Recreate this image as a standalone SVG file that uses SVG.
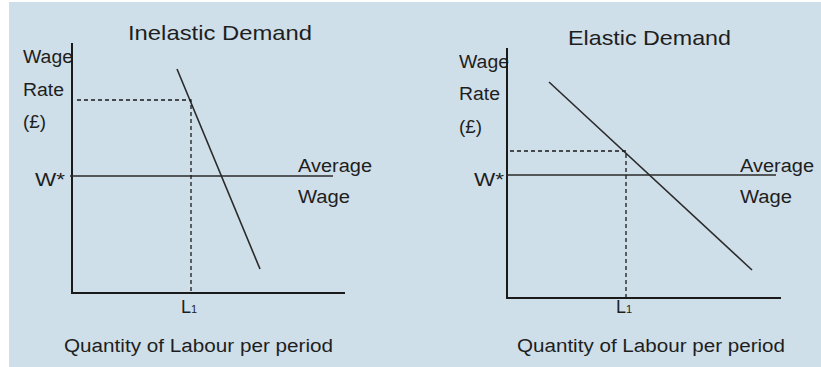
<svg xmlns="http://www.w3.org/2000/svg" width="821" height="367" viewBox="0 0 821 367">
<style>
text{font-family:"Liberation Sans","DejaVu Sans",sans-serif;fill:#1e1e1e}
.t{font-size:21px}
.l{font-size:18px}
.ax{stroke:#1a1a1a;stroke-width:2;fill:none}
.ln{stroke:#2a2a2a;stroke-width:1.6;fill:none}
.d{stroke:#1a1a1a;stroke-width:1.3;stroke-dasharray:4,3;fill:none}
</style>
<rect x="0" y="0" width="821" height="367" fill="#ffffff"/>
<rect x="9" y="2" width="812" height="365" fill="#cfdfe9"/>
<g id="left">
<text class="t" x="128" y="40" textLength="184" lengthAdjust="spacingAndGlyphs">Inelastic Demand</text>
<text class="l" x="23" y="63" textLength="50" lengthAdjust="spacingAndGlyphs">Wage</text>
<text class="l" x="23" y="96" textLength="41" lengthAdjust="spacingAndGlyphs">Rate</text>
<text class="l" x="23" y="128" textLength="23" lengthAdjust="spacingAndGlyphs">(£)</text>
<text class="l" x="35" y="186" textLength="30" lengthAdjust="spacingAndGlyphs">W*</text>
<text class="l" x="298" y="172" textLength="74" lengthAdjust="spacingAndGlyphs">Average</text>
<text class="l" x="298" y="203" textLength="52" lengthAdjust="spacingAndGlyphs">Wage</text>
<text class="l" x="181" y="313" font-size="16">L<tspan font-size="11">1</tspan></text>
<text class="l" x="64" y="352" textLength="269" lengthAdjust="spacingAndGlyphs">Quantity of Labour per period</text>
<path class="ax" d="M72 43V293H345"/>
<path class="ln" d="M70 176H333"/>
<path class="ln" d="M177 69L260 269"/>
<path class="d" d="M77 100H191V293"/>
</g>
<g id="right">
<text class="t" x="568" y="45" textLength="163" lengthAdjust="spacingAndGlyphs">Elastic Demand</text>
<text class="l" x="459" y="68" textLength="50" lengthAdjust="spacingAndGlyphs">Wage</text>
<text class="l" x="459" y="100" textLength="41" lengthAdjust="spacingAndGlyphs">Rate</text>
<text class="l" x="459" y="133" textLength="23" lengthAdjust="spacingAndGlyphs">(£)</text>
<text class="l" x="474" y="186" textLength="30" lengthAdjust="spacingAndGlyphs">W*</text>
<text class="l" x="740" y="172" textLength="74" lengthAdjust="spacingAndGlyphs">Average</text>
<text class="l" x="740" y="203" textLength="52" lengthAdjust="spacingAndGlyphs">Wage</text>
<text class="l" x="616" y="313" font-size="16">L<tspan font-size="11">1</tspan></text>
<text class="l" x="517" y="352" textLength="268" lengthAdjust="spacingAndGlyphs">Quantity of Labour per period</text>
<path class="ax" d="M507 48V298H781"/>
<path class="ln" d="M507 175H776"/>
<path class="ln" d="M549 82L752 270"/>
<path class="d" d="M510 151H626V298"/>
</g>
</svg>
